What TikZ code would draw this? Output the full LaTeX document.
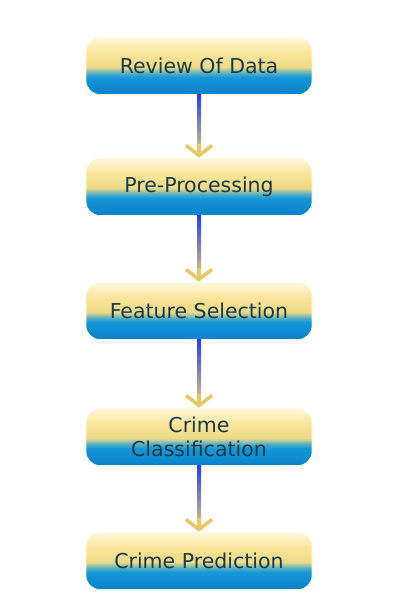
\documentclass[tikz,border=0pt]{standalone}
\usepackage{fontspec}
\setmainfont{DejaVu Sans}
\usetikzlibrary{arrows.meta}

\definecolor{txtcol}{HTML}{1C3A46}
\definecolor{shaftblue}{HTML}{2A3FE0}
\definecolor{shafttan}{HTML}{CDBE86}
\definecolor{tipcol}{HTML}{E6C967}
\definecolor{shA}{HTML}{0A80CA}
\definecolor{shB}{HTML}{1396D8}
\definecolor{shC}{HTML}{5AB0C0}
\definecolor{shD}{HTML}{EDDA88}
\definecolor{shE}{HTML}{F9E498}
\definecolor{shF}{HTML}{FFF8DC}

\pgfdeclareverticalshading{boxshade}{100bp}{
	color(0bp)=(shA); color(25bp)=(shA);
	color(40bp)=(shB); color(44bp)=(shC);
	color(49bp)=(shD); color(61bp)=(shE);
	color(75bp)=(shF); color(100bp)=(shF)}

\tikzset{
	stage/.style={rounded corners=14pt, shading=boxshade, draw=white!85!yellow,
		line width=0.6pt, minimum width=226pt, minimum height=57pt,
		align=center, text=txtcol, font=\fontsize{20.5}{24}\selectfont},
	tip/.style={tipcol, line width=3.6pt, -{Straight Barb[length=10pt, width=26pt, line width=3.6pt]}}
}

\begin{document}
\begin{tikzpicture}[x=1pt, y=-1pt]
	\useasboundingbox[fill=white] (0,0) rectangle (415,612);

	% Draw stages
	\node[stage] (review) at (199,66) {Review Of Data};
	\node[stage] (prep) at (199,187) {Pre-Processing};
	\node[stage] (feat) at (199,311) {Feature Selection};
	\node[stage] (class) at (199,437) {Crime\\Classification};
	\node[stage] (pred) at (199,561) {Crime Prediction};

	% Draw arrows
	\foreach \a/\b in {review/prep, prep/feat, feat/class, class/pred}{
		\shade[top color=shaftblue, bottom color=shafttan]
			([xshift=-2pt]\a.south) rectangle ([xshift=2pt, yshift=10pt]\b.north);
		\draw[tip] ([yshift=14pt]\b.north) -- ([yshift=0.5pt]\b.north);
	}
\end{tikzpicture}
\end{document}
